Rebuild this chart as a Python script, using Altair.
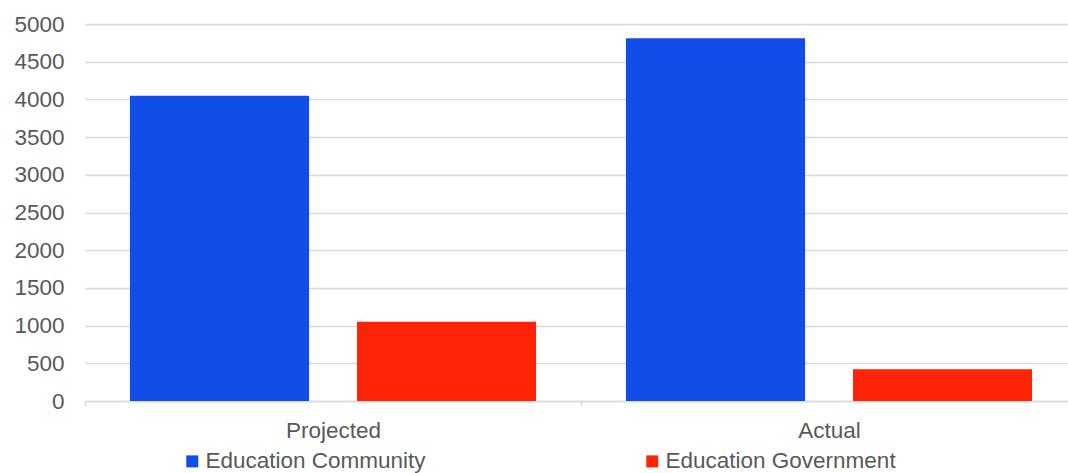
import altair as alt
import pandas as pd

# Enrolment figures by period and sector
periods = ["Projected", "Actual"]
series = ["Education Community", "Education Government"]
community = [4050, 4810]
government = [1050, 420]

colors = ["#114DE9", "#FF2308"]
text_color = "#595959"
grid_color = "#D9D9D9"
font = "Liberation Sans"
font_size = 22.5

rows = []
for i, p in enumerate(periods):
    rows.append({"period": p, "series": series[0], "value": community[i]})
    rows.append({"period": p, "series": series[1], "value": government[i]})
df = pd.DataFrame(rows)

chart = (
    alt.Chart(df)
    .mark_bar()
    .encode(
        x=alt.X(
            "period:N",
            sort=periods,
            title=None,
            scale=alt.Scale(paddingInner=0, paddingOuter=0),
            axis=alt.Axis(
                labelAngle=0,
                grid=False,
                domainColor=grid_color,
                domainWidth=1.5,
                ticks=True,
                tickBand="extent",
                tickColor=grid_color,
                tickWidth=1.5,
                tickSize=5,
                labelPadding=13,
                labelFontSize=font_size,
                labelColor=text_color,
                labelFont=font,
            ),
        ),
        xOffset=alt.XOffset(
            "series:N",
            sort=series,
            scale=alt.Scale(paddingInner=0.211, paddingOuter=0.198),
        ),
        y=alt.Y(
            "value:Q",
            title=None,
            scale=alt.Scale(domain=[0, 5000], nice=False),
            axis=alt.Axis(
                values=list(range(0, 5001, 500)),
                format="d",
                domain=False,
                ticks=False,
                gridColor=grid_color,
                gridWidth=1.5,
                labelPadding=21,
                labelFontSize=font_size,
                labelColor=text_color,
                labelFont=font,
            ),
        ),
        color=alt.Color(
            "series:N",
            sort=series,
            scale=alt.Scale(domain=series, range=colors),
            legend=alt.Legend(
                title=None,
                orient="none",
                legendX=96,
                legendY=426,
                direction="horizontal",
                columns=2,
                columnPadding=215,
                padding=0,
                symbolType="square",
                symbolSize=144,
                symbolStrokeWidth=0,
                labelOffset=2,
                labelLimit=0,
                labelFontSize=font_size,
                labelColor=text_color,
                labelFont=font,
            ),
        ),
    )
    .properties(
        width=992,
        height=377,
        autosize=alt.AutoSizeParams(type="none"),
        padding={"left": 85, "top": 24, "right": -9, "bottom": 72},
        background="white",
    )
    .configure_view(stroke=None)
)

chart.save("out.html", embed_options={"renderer": "svg", "actions": False})
